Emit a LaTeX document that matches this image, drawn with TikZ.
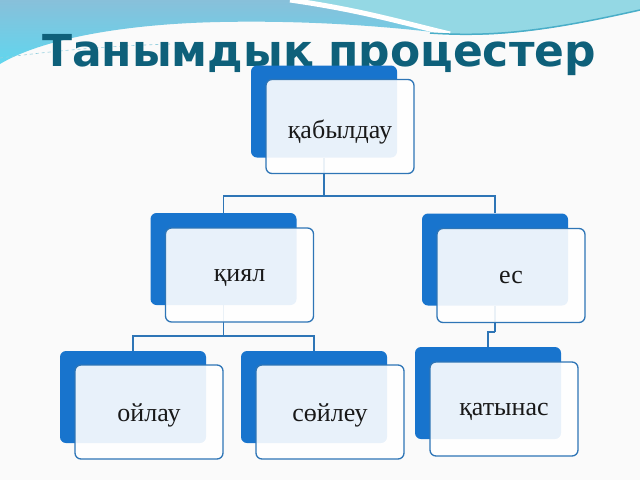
\documentclass[tikz,border=0pt]{standalone}
\usepackage{fontspec}
\setmainfont{Liberation Serif}
\newfontfamily\titlefont{DejaVu Sans}
\usetikzlibrary{calc,positioning}

\definecolor{boxblue}{RGB}{24,116,205}
\definecolor{lineblue}{RGB}{46,117,182}
\definecolor{titleteal}{RGB}{14,96,122}
\definecolor{wavesky}{RGB}{136,192,218}
\definecolor{wavecyan}{RGB}{96,214,238}
\definecolor{waveteal}{RGB}{148,216,228}
\definecolor{waveline}{RGB}{74,174,200}

\newcommand{\lowtext}[2]{\raisebox{-#1}[\height][\depth]{#2}}

\begin{document}
\begin{tikzpicture}[x=1pt,y=-1pt,
    back/.style={fill=boxblue, rounded corners=6pt, minimum width=146pt,
      minimum height=92pt, inner sep=0pt},
    front/.style={draw=lineblue, line width=1.3pt, fill=white, fill opacity=0.9,
      text opacity=1, rounded corners=6pt, minimum width=148pt,
      minimum height=94pt, inner sep=0pt, text=black!90,
      font=\fontsize{26}{30}\selectfont},
    conn/.style={draw=lineblue, line width=1.6pt}]
  \useasboundingbox (0,0) rectangle (640,480);
  \fill[white!98!black] (0,0) rectangle (640,480);

  % top wave
  \begin{scope}
    \shade[top color=wavesky, bottom color=wavecyan]
      (0,0) -- (300,0) .. controls (360,10) and (400,22) .. (450,34)
      .. controls (400,28) and (320,20) .. (220,22)
      .. controls (120,24) and (40,40) .. (0,64) -- cycle;
    \fill[waveteal]
      (300,0) -- (640,0) -- (640,10) .. controls (560,28) and (500,38) .. (450,34)
      .. controls (400,22) and (360,10) .. (300,0) -- cycle;
    \draw[white, line width=5pt] (290,0) .. controls (360,10) and (400,22) .. (450,34);
    \draw[waveline, line width=1.5pt] (430,33) .. controls (500,38) and (560,28) .. (640,10);
    \draw[waveline!60, dashed, line width=0.6pt] (0,58) .. controls (60,50) and (110,46) .. (170,44);
  \end{scope}

  \node[anchor=base, font=\titlefont\bfseries\fontsize{44}{50}\selectfont, text=titleteal]
    (title) at (319,66) {Танымдық процестер};

  % back boxes
  \node[back] (perc-b) at (324,111.5) {};
  \node[back] (imag-b) at (223.5,259) {};
  \node[back] (mem-b) at (495,259.5) {};
  \node[back] (think-b) at (133,397) {};
  \node[back] (speech-b) at (314,397) {};
  \node[back] (comm-b) at (488,393) {};

  % connectors
  \draw[conn] (perc-b.south) -- ++(0,38) coordinate (j1);
  \draw[conn] (j1) -| (imag-b.north);
  \draw[conn] (j1) -| (mem-b.north);
  \draw[conn] (imag-b.south) -- ++(0,31) coordinate (j2);
  \draw[conn] (j2) -| (think-b.north);
  \draw[conn] (j2) -| (speech-b.north);
  \draw[conn] (mem-b.south) -- ++(0,26) coordinate (j3);
  \draw[conn] (j3) -| (comm-b.north);

  % front boxes
  \node[front] (perc) at ($(perc-b)+(16,15)$) {\lowtext{5pt}{қабылдау}};
  \node[front] (imag) at ($(imag-b)+(16,16)$) {\lowtext{3pt}{қиял}};
  \node[front] (mem) at ($(mem-b)+(16,16)$) {\lowtext{1.5pt}{ес}};
  \node[front] (think) at ($(think-b)+(16,15)$) {\lowtext{3pt}{ойлау}};
  \node[front] (speech) at ($(speech-b)+(16,15)$) {\lowtext{3pt}{сөйлеу}};
  \node[front] (comm) at ($(comm-b)+(16,16)$) {\lowtext{2.5pt}{қатынас}};
\end{tikzpicture}
\end{document}
